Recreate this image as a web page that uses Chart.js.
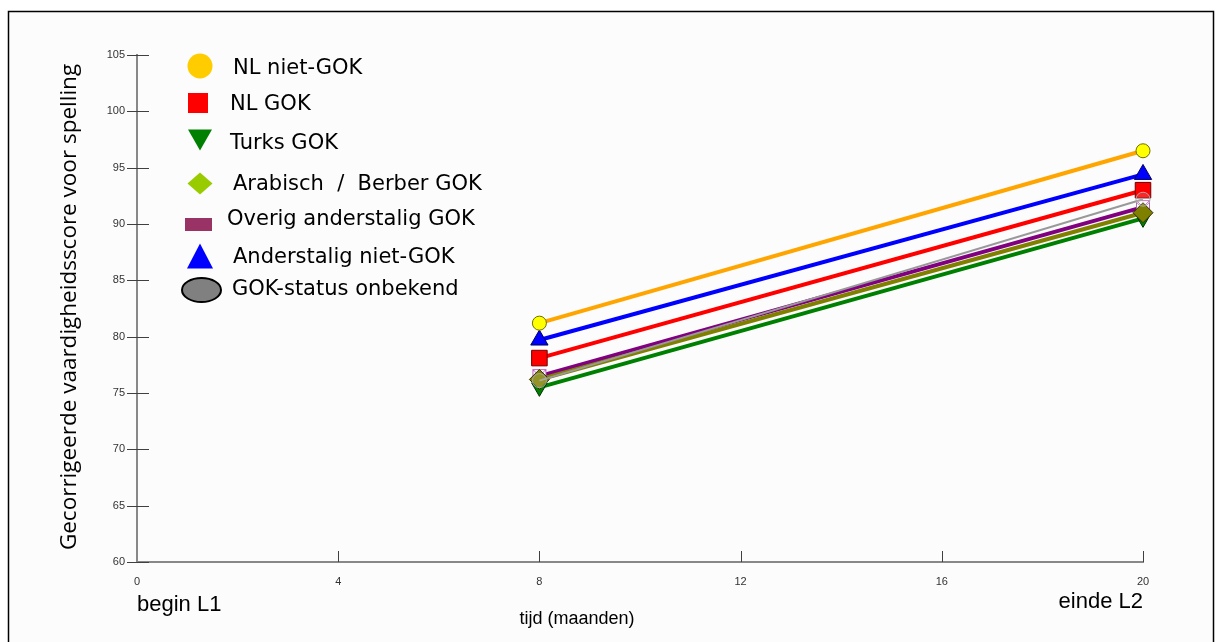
<!DOCTYPE html>
<html>
<head>
<meta charset="utf-8">
<script src="https://cdn.jsdelivr.net/npm/chart.js@4/dist/chart.umd.min.js"></script>
<style>
html,body{margin:0;padding:0;background:#fff;}
#c{display:block;width:1220px;height:642px;}
</style>
</head>
<body>
<canvas id="c" width="1220" height="642"></canvas>
<script>
// ---- data ----
const months = [8, 20];
const seriesLabels = ['NL niet-GOK', 'NL GOK', 'Turks GOK', 'Arabisch  /  Berber GOK', 'Overig anderstalig GOK', 'Anderstalig niet-GOK', 'GOK-status onbekend'];
const nlNietGok = [81.2, 96.5];
const nlGok = [78.1, 93.0];
const turksGok = [75.5, 90.5];
const arabischBerberGok = [76.2, 91.0];
const overigAnderstaligGok = [76.5, 91.5];
const anderstaligNietGok = [79.7, 94.4];
const gokOnbekend = [76.1, 92.2];
const xTicks = [0, 4, 8, 12, 16, 20];
const yTicks = [60, 65, 70, 75, 80, 85, 90, 95, 100, 105];
const yTitle = 'Gecorrigeerde vaardigheidsscore voor spelling';
const xTitle = 'tijd (maanden)';
const xStartLabel = 'begin L1';
const xEndLabel = 'einde L2';

const pts = arr => months.map((m, i) => ({x: m, y: arr[i]}));

// custom marker: open square with X
const sqX = document.createElement('canvas');
sqX.width = 16; sqX.height = 16;
(function(){
  const g = sqX.getContext('2d');
  g.fillStyle = '#ffffff';
  g.fillRect(1.5, 1.5, 13, 13);
  g.strokeStyle = '#C060C0';
  g.lineWidth = 1;
  g.strokeRect(1.5, 1.5, 13, 13);
  g.beginPath();
  g.moveTo(1.5, 1.5); g.lineTo(14.5, 14.5);
  g.moveTo(14.5, 1.5); g.lineTo(1.5, 14.5);
  g.stroke();
})();

const datasets = [
  {label: seriesLabels[0], data: pts(nlNietGok), borderColor: '#FFA500', borderWidth: 4,
   pointStyle: 'circle', pointRadius: 7, pointBackgroundColor: '#FFFF00', pointBorderColor: '#707000', pointBorderWidth: 1, order: 0},
  {label: seriesLabels[1], data: pts(nlGok), borderColor: '#FF0000', borderWidth: 4,
   pointStyle: 'rect', pointRadius: 11, pointBackgroundColor: '#FF0000', pointBorderColor: '#700000', pointBorderWidth: 1, order: 3},
  {label: seriesLabels[2], data: pts(turksGok), borderColor: '#008000', borderWidth: 4,
   pointStyle: 'triangle', pointRotation: 180, pointRadius: 9, pointBackgroundColor: '#008000', pointBorderColor: '#003000', pointBorderWidth: 1, order: 5},
  {label: seriesLabels[3], data: pts(arabischBerberGok), borderColor: '#808000', borderWidth: 4,
   pointStyle: 'rectRot', pointRadius: 10, pointBackgroundColor: '#808000', pointBorderColor: '#303000', pointBorderWidth: 1, order: 4},
  {label: seriesLabels[4], data: pts(overigAnderstaligGok), borderColor: '#800080', borderWidth: 4,
   pointStyle: sqX, pointRadius: 8, order: 6},
  {label: seriesLabels[5], data: pts(anderstaligNietGok), borderColor: '#0000FF', borderWidth: 4,
   pointStyle: 'triangle', pointRadius: 10, pointBackgroundColor: '#0000FF', pointBorderColor: '#000060', pointBorderWidth: 1, order: 1},
  {label: seriesLabels[6], data: pts(gokOnbekend), borderColor: '#999999', borderWidth: 2,
   pointStyle: 'circle', pointRadius: 7, pointBackgroundColor: 'rgba(255,255,255,0.15)', pointBorderColor: '#AAAAAA', pointBorderWidth: 1, order: 2}
];
datasets.forEach(d => { d.tension = 0; d.fill = false; d.clip = false; });

// ---- plugins ----
const bgPlugin = {
  id: 'bg',
  beforeDraw(chart) {
    const c = chart.ctx;
    c.save();
    c.fillStyle = '#ffffff';
    c.fillRect(0, 0, chart.width, chart.height);
    c.fillStyle = '#FCFCFC';
    c.fillRect(8, 11, 1205, 640);
    c.strokeStyle = '#000000';
    c.lineWidth = 1.5;
    c.beginPath();
    c.moveTo(8.5, 660); c.lineTo(8.5, 11.5); c.lineTo(1213.5, 11.5); c.lineTo(1213.5, 660);
    c.stroke();
    c.restore();
  }
};

const legendIcons = [
  (c, x, y) => { c.fillStyle = '#FFCC00'; c.beginPath(); c.arc(x, y, 12.5, 0, Math.PI * 2); c.fill(); },
  (c, x, y) => { c.fillStyle = '#FF0000'; c.fillRect(x - 10, y - 10, 20, 20); },
  (c, x, y) => { c.fillStyle = '#008000'; c.beginPath(); c.moveTo(x - 12, y - 10); c.lineTo(x + 12, y - 10); c.lineTo(x, y + 11); c.closePath(); c.fill(); },
  (c, x, y) => { c.fillStyle = '#99CC00'; c.beginPath(); c.moveTo(x, y - 11); c.lineTo(x + 12.5, y); c.lineTo(x, y + 11); c.lineTo(x - 12.5, y); c.closePath(); c.fill(); },
  (c, x, y) => { c.fillStyle = '#993366'; c.fillRect(x - 13.5, y - 6.5, 27, 13); },
  (c, x, y) => { c.fillStyle = '#0000FF'; c.beginPath(); c.moveTo(x, y - 12.5); c.lineTo(x + 13, y + 12.5); c.lineTo(x - 13, y + 12.5); c.closePath(); c.fill(); },
  (c, x, y) => { c.fillStyle = '#808080'; c.strokeStyle = '#000000'; c.lineWidth = 2; c.beginPath(); c.ellipse(x, y, 19.5, 12, 0, 0, Math.PI * 2); c.fill(); c.stroke(); }
];
const legendIconPos = [[200, 66], [198, 103], [200, 139.5], [200, 183.5], [198.5, 224.5], [200, 256], [201.5, 290]];
const legendTextPos = [[233, 69], [230, 105], [230, 144], [233, 185], [227, 220], [233, 258], [232, 290]];

const decorPlugin = {
  id: 'decor',
  beforeDatasetsDraw(chart) {
    const c = chart.ctx;
    const xs = chart.scales.x, ys = chart.scales.y;
    const left = xs.left, bottom = ys.bottom;
    c.save();
    c.strokeStyle = '#404040';
    c.lineWidth = 1;
    yTicks.forEach(v => {
      const py = Math.round(ys.getPixelForValue(v)) + 0.5;
      c.beginPath(); c.moveTo(left - 10, py); c.lineTo(left + 12, py); c.stroke();
    });
    xTicks.forEach(v => {
      if (v === 0) return;
      const px = Math.round(xs.getPixelForValue(v)) + 0.5;
      c.beginPath(); c.moveTo(px, bottom - 11); c.lineTo(px, bottom); c.stroke();
    });
    c.restore();
  },
  afterDraw(chart) {
    const c = chart.ctx;
    const xs = chart.scales.x;
    c.save();
    // legend
    chart.data.datasets.forEach((d, i) => {
      const [ix, iy] = legendIconPos[i];
      legendIcons[i](c, ix, iy);
      const [tx, ty] = legendTextPos[i];
      c.fillStyle = '#000000';
      c.font = '21px "DejaVu Sans"';
      c.textAlign = 'left';
      c.textBaseline = 'middle';
      c.fillText(d.label, tx, ty);
    });
    // y title
    c.save();
    c.translate(70, 307);
    c.rotate(-Math.PI / 2);
    c.font = '22.5px "Open Sans"';
    c.fillStyle = '#000000';
    c.textAlign = 'center';
    c.textBaseline = 'middle';
    c.fillText(yTitle, 0, 0);
    c.restore();
    // bottom labels
    c.fillStyle = '#000000';
    c.textBaseline = 'middle';
    c.font = '22px "Liberation Sans"';
    c.textAlign = 'left';
    c.fillText(xStartLabel, xs.getPixelForValue(0), 605);
    c.textAlign = 'right';
    c.fillText(xEndLabel, xs.getPixelForValue(20), 602);
    c.font = '18px "Liberation Sans"';
    c.textAlign = 'center';
    c.fillText(xTitle, 577, 619);
    c.restore();
  }
};

const tickFont = {family: 'Liberation Sans', size: 11};

new Chart(document.getElementById('c'), {
  type: 'line',
  data: {datasets},
  options: {
    responsive: false,
    animation: false,
    devicePixelRatio: 1,
    layout: {padding: {top: 55, right: 77, left: 0, bottom: 0}},
    plugins: {legend: {display: false}, tooltip: {enabled: false}},
    scales: {
      x: {
        type: 'linear', min: 0, max: 20,
        afterBuildTicks: s => { s.ticks = xTicks.map(v => ({value: v})); },
        ticks: {padding: 13, font: tickFont, color: '#333333', maxRotation: 0},
        grid: {drawOnChartArea: false, drawTicks: false, color: 'rgba(0,0,0,0)'},
        border: {color: '#888888', width: 2},
        afterFit: s => { s.height = 80; }
      },
      y: {
        type: 'linear', min: 60, max: 105,
        afterBuildTicks: s => { s.ticks = yTicks.map(v => ({value: v})); },
        ticks: {padding: 12, font: tickFont, color: '#333333'},
        grid: {drawOnChartArea: false, drawTicks: false, color: 'rgba(0,0,0,0)'},
        border: {color: '#888888', width: 2},
        afterFit: s => { s.width = 137; }
      }
    }
  },
  plugins: [bgPlugin, decorPlugin]
});
</script>
</body>
</html>
